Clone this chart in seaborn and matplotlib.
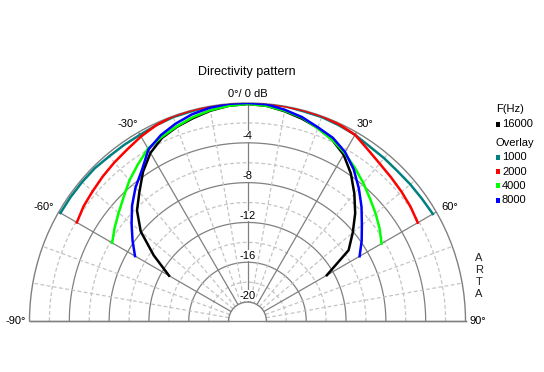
import numpy as np
import pandas as pd
import matplotlib
matplotlib.use("Agg")
import matplotlib.pyplot as plt
from matplotlib.patches import Rectangle
import seaborn as sns

plt.rcParams['font.family'] = ['Liberation Sans', 'DejaVu Sans']

# angles in degrees, levels in dB
angles = [-60, -55, -50, -45, -40, -35, -30, -25, -20, -15, -10, -5, 0,
          5, 10, 15, 20, 25, 30, 35, 40, 45, 50, 55, 60]

db_1000 = [-0.2, -0.2, -0.2, -0.2, -0.3, -0.3, -0.3, -0.2, -0.1, -0.1, 0, 0, 0,
           0, 0, -0.1, -0.1, -0.2, -0.3, -0.5, -0.55, -0.6, -0.55, -0.5, -0.4]
db_2000 = [-2.1, -1.8, -1.6, -1.35, -1.1, -0.85, -0.5, -0.2, 0, 0, 0, 0, 0,
           0, 0, 0, 0, -0.1, -0.3, -0.85, -1.25, -1.5, -1.7, -1.9, -2.15]
db_4000 = [-6.2, -5.6, -5.0, -4.3, -3.45, -2.7, -1.9, -1.5, -1.1, -0.7, -0.4, -0.2, -0.1,
           -0.2, -0.45, -0.75, -1.3, -1.8, -2.4, -3.1, -3.8, -4.5, -5.1, -5.7, -6.35]
db_8000 = [-8.85, -7.8, -6.7, -5.5, -4.4, -3.4, -2.0, -1.3, -0.8, -0.4, -0.15, 0, 0,
           -0.05, -0.35, -0.7, -1.2, -1.6, -2.3, -3.3, -4.5, -5.7, -6.9, -7.9, -8.9]
db_16000 = [-12.8, -10.4, -7.9, -6.2, -5.0, -3.6, -2.4, -1.6, -1.15, -0.8, -0.45, -0.2, -0.1,
            -0.2, -0.5, -0.85, -1.25, -1.8, -2.6, -3.8, -5.2, -6.6, -8.1, -9.5, -12.7]

freqs = ['1000', '2000', '4000', '8000', '16000']
colors = ['#008080', '#ff0000', '#00ff00', '#0000ff', '#000000']
draw_order = ['16000', '1000', '2000', '4000', '8000']
db_ticks = [-4, -8, -12, -16, -20]

rows = []
for f, vals in zip(freqs, [db_1000, db_2000, db_4000, db_8000, db_16000]):
    for a, v in zip(angles, vals):
        rows.append({'freq': f, 'theta': np.deg2rad(a), 'db': v})
df = pd.DataFrame(rows)
palette = dict(zip(freqs, colors))

W, H = 544, 372
fig = plt.figure(figsize=(5.44, 3.72), dpi=100)
# the half disc is drawn at half the box size, centred in the box
cx, cy, R = 247.5, 321, 218
bx, by = cx, cy - R / 2
ax = fig.add_axes([(bx - 2 * R) / W, (H - (by + R)) / H, 4 * R / W, 2 * R / H],
                  projection='polar')
ax.set_theta_zero_location('N')
ax.set_theta_direction(-1)
ax.set_thetamin(-90)
ax.set_thetamax(90)
ax.set_ylim(-20, 0)
rorigin = -21.9
ax.set_rorigin(rorigin)
ax.grid(False)
ax.set_xticks([])
ax.set_yticks([])
for s in ax.spines.values():
    s.set_color('#808080')
    s.set_linewidth(1)

# grid
full = np.linspace(-np.pi / 2, np.pi / 2, 361)
for r in range(-18, 0, 4):
    ax.plot(full, np.full_like(full, r), color='#c4c4c4', lw=0.9, ls=(0, (3, 2)), zorder=1)
for r in [-4, -8, -12, -16]:
    ax.plot(full, np.full_like(full, r), color='#808080', lw=0.9, zorder=1)
for a in range(-80, 90, 10):
    if a % 30 == 0:
        ax.plot([np.deg2rad(a)] * 2, [-20, 0], color='#808080', lw=0.9, zorder=1)
    else:
        ax.plot([np.deg2rad(a)] * 2, [-20, 0], color='#c4c4c4', lw=0.9,
                ls=(0, (3, 2)), zorder=1)
# baseline through the hole
ax.plot([-np.pi / 2, -np.pi / 2, np.pi / 2, np.pi / 2], [0, rorigin, rorigin, 0],
        color='#808080', lw=1, clip_on=False, zorder=1)

sns.lineplot(data=df, x='theta', y='db', hue='freq', hue_order=draw_order,
             palette=palette, linewidth=1.8, legend=False, sort=False,
             estimator=None, ax=ax, zorder=3)

# dB labels along 0 degrees
for v in db_ticks:
    ax.text(0, v + 0.65, str(v), ha='center', va='center', fontsize=8, zorder=4,
            bbox=dict(facecolor='white', edgecolor='none', pad=0.3))

# angle labels
ax.annotate('0°/ 0 dB', xy=(0, 0), xytext=(0, 4), textcoords='offset pixels',
            ha='center', va='bottom', fontsize=8, annotation_clip=False)
ax.annotate('-30°', xy=(np.deg2rad(-30), 0), xytext=(-1, 3), textcoords='offset pixels',
            ha='right', va='bottom', fontsize=8, annotation_clip=False)
ax.annotate('30°', xy=(np.deg2rad(30), 0), xytext=(0, 3), textcoords='offset pixels',
            ha='left', va='bottom', fontsize=8, annotation_clip=False)
ax.annotate('-60°', xy=(np.deg2rad(-60), 0), xytext=(-5, 5), textcoords='offset pixels',
            ha='right', va='center', fontsize=8, annotation_clip=False)
ax.annotate('60°', xy=(np.deg2rad(60), 0), xytext=(5, 5), textcoords='offset pixels',
            ha='left', va='center', fontsize=8, annotation_clip=False)
ax.annotate('-90°', xy=(np.deg2rad(-90), 0), xytext=(-4, 0), textcoords='offset pixels',
            ha='right', va='center', fontsize=8, annotation_clip=False)
ax.annotate('90°', xy=(np.deg2rad(90), 0), xytext=(4, 0), textcoords='offset pixels',
            ha='left', va='center', fontsize=8, annotation_clip=False)

fig.text(246.7 / W, 1 - 72 / H, 'Directivity pattern', ha='center', va='center', fontsize=9)

# legend
def legend_row(label, color, y):
    fig.patches.append(Rectangle((496 / W, 1 - (y + 2.5) / H), 4 / W, 5 / H,
                                 transform=fig.transFigure, facecolor=color,
                                 edgecolor='none'))
    fig.text(502 / W, 1 - y / H, label, ha='left', va='center', fontsize=8)

fig.text(496 / W, 1 - 109.5 / H, 'F(Hz)', ha='left', va='center', fontsize=8)
legend_row('16000', palette['16000'], 124)
fig.text(496 / W, 1 - 143 / H, 'Overlay', ha='left', va='center', fontsize=8)
for i, f in enumerate(freqs[:4]):
    legend_row(f, palette[f], 157.5 + i * 14.2)

for i, ch in enumerate('ARTA'):
    fig.text(479 / W, 1 - (258 + i * 12) / H, ch, ha='center', va='center',
             fontsize=8, color='#202020')

fig.savefig('out.png', dpi=100)
